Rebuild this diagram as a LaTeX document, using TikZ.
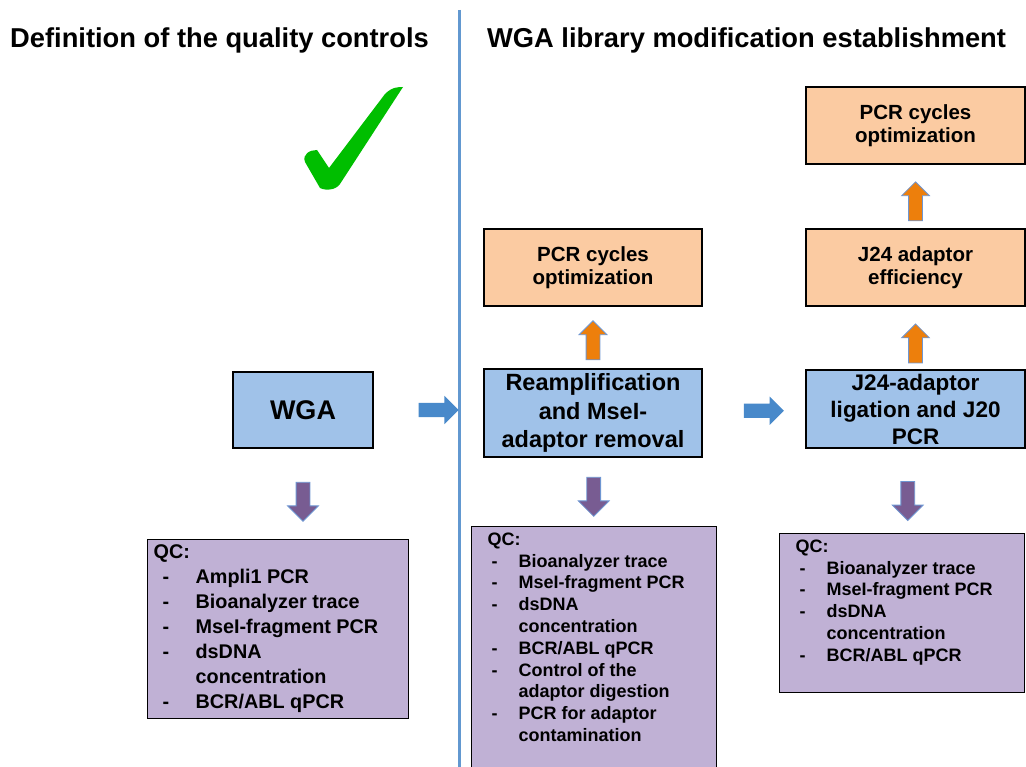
\documentclass[tikz,border=0pt]{standalone}
\usepackage{fontspec}
\setmainfont{Liberation Sans}
\usetikzlibrary{shapes,arrows}

\definecolor{boxblue}{RGB}{160,194,233}
\definecolor{boxorange}{RGB}{251,203,162}
\definecolor{boxpurple}{RGB}{192,177,213}
\definecolor{arrowblue}{RGB}{72,137,202}
\definecolor{arroworange}{RGB}{237,127,12}
\definecolor{arrowpurple}{RGB}{120,92,146}
\definecolor{arrowedge}{RGB}{110,150,210}
\definecolor{splitblue}{RGB}{98,152,208}
\definecolor{checkgreen}{RGB}{0,190,0}

% QC list items: dash, then the entry; \qn continues an entry
\newlength\qcin
\newlength\qcgap
\newcommand{\qi}[1]{\hspace*{\qcin}\makebox[\qcgap][l]{-}#1}
\newcommand{\qn}[1]{\hspace*{\qcin}\hspace*{\qcgap}#1}

\begin{document}
\begin{tikzpicture}[x=1pt, y=-1pt]
\tikzstyle{title}=[anchor=base west, inner sep=0pt, font=\bfseries\fontsize{27.3}{32}\selectfont]
\tikzstyle{boxb}=[rectangle, draw=black, line width=1.3pt, fill=boxblue, align=center, inner sep=0pt, font=\bfseries\fontsize{23.5}{28.5}\selectfont]
\tikzstyle{boxo}=[boxb, fill=boxorange, minimum width=218pt, minimum height=77pt, font=\bfseries\fontsize{20.5}{23}\selectfont]
\tikzstyle{boxq}=[rectangle, draw=black, line width=1.3pt, fill=boxpurple, anchor=north west, inner xsep=16pt, inner ysep=6pt, font=\bfseries\fontsize{18}{21.8}\selectfont]
\tikzstyle{arrr}=[single arrow, draw=none, fill=arrowblue, minimum height=40pt, minimum width=28pt, single arrow head extend=7pt, inner xsep=0pt, inner ysep=7pt]
\tikzstyle{arru}=[arrr, rotate=90, fill=arroworange, draw=arrowedge, line width=0.8pt, minimum height=39pt, minimum width=27pt, inner ysep=6.5pt]
\tikzstyle{arrd}=[arrr, rotate=-90, fill=arrowpurple, draw=arrowedge, line width=0.8pt, minimum height=39pt, minimum width=30pt, single arrow head extend=8.5pt, inner ysep=6.5pt]

\useasboundingbox (0,0) rectangle (1026,767);

\node[title] (ttlL) at (10,48) {Definition of the quality controls};
\node[title] (ttlR) at (487,48) {WGA library modification establishment};
\draw[splitblue, line width=3pt] (459,10) -- (459,767);

% tick
\fill[checkgreen] (317,150) -- (329,168) -- (385,94) .. controls (392,87) and (398,87) .. (403,87)
  -- (340,184) .. controls (336,190) and (326,191) .. (320,188) -- (305,162)
  .. controls (302,154) and (310,150) .. (317,150) -- cycle;

% main steps
\node[boxb, minimum width=140pt, minimum height=76pt, font=\bfseries\fontsize{27}{32}\selectfont] (wga) at (303,410) {WGA};
\node[boxb, minimum width=218pt, minimum height=88pt] (reamp) at (593,413) {Reamplification\\and MseI-\\adaptor removal};
\node[boxb, minimum width=219pt, minimum height=78pt, font=\bfseries\fontsize{22.5}{27}\selectfont] (jlig) at (915.5,409) {J24-adaptor\\ligation and J20\\PCR};

% optimization steps
\node[boxo] (pcrA) at (593,267.5) {PCR cycles\\optimization};
\node[boxo, minimum width=219pt] (jeff) at (915.5,267.5) {J24 adaptor\\efficiency};
\node[boxo, minimum width=219pt] (pcrB) at (915.5,125.5) {PCR cycles\\optimization};

% quality controls
\node[boxq, inner xsep=6pt, inner ysep=5pt, font=\bfseries\fontsize{19.8}{25}\selectfont] (qcA) at (147,539)
  {\setlength\qcin{9pt}\setlength\qcgap{33pt}%
   \parbox[c][169pt][t]{249pt}{QC:\\ \qi{Ampli1 PCR}\\ \qi{Bioanalyzer trace}\\ \qi{MseI-fragment PCR}\\
   \qi{dsDNA}\\ \qn{concentration}\\ \qi{BCR/ABL qPCR}}};
\node[boxq] (qcB) at (471,526)
  {\setlength\qcin{4pt}\setlength\qcgap{27pt}%
   \parbox[c][250pt][t]{213pt}{QC:\\ \qi{Bioanalyzer trace}\\ \qi{MseI-fragment PCR}\\ \qi{dsDNA}\\
   \qn{concentration}\\ \qi{BCR/ABL qPCR}\\ \qi{Control of the}\\ \qn{adaptor digestion}\\
   \qi{PCR for adaptor}\\ \qn{contamination}}};
\node[boxq] (qcC) at (779,533)
  {\setlength\qcin{4pt}\setlength\qcgap{27pt}%
   \parbox[c][147pt][t]{213pt}{QC:\\ \qi{Bioanalyzer trace}\\ \qi{MseI-fragment PCR}\\ \qi{dsDNA}\\
   \qn{concentration}\\ \qi{BCR/ABL qPCR}}};

% block arrows between the steps
\path (wga.east) -- node[arrr, pos=0.56] (rA) {} (wga.east -| reamp.west);
\path (reamp.east) -- node[arrr, pos=0.56] (rB) {} (jlig.west);
\path (wga.south) -- node[arrd, pos=0.55] (dA) {} (wga.south |- qcA.north);
\path (reamp.south) -- node[arrd, pos=0.61, xshift=-6pt] (dB) {} (qcB.north);
\path (jlig.south) -- node[arrd, pos=0.58] (dC) {} (qcC.north);
\path (reamp.north) -- node[arru, pos=0.48, xshift=-5pt] (uA) {} (pcrA.south);
\path (jlig.north) -- node[arru, pos=0.47, xshift=-7pt] (uB) {} (jeff.south);
\path (jeff.north) -- node[arru, pos=0.48, xshift=-7pt] (uC) {} (pcrB.south);
\end{tikzpicture}
\end{document}
